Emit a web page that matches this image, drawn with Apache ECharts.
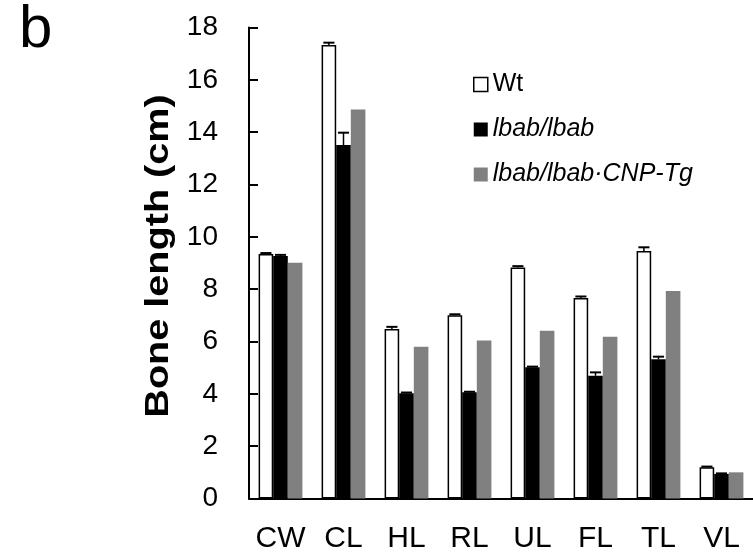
<!DOCTYPE html>
<html>
<head>
<meta charset="utf-8">
<script src="https://cdn.jsdelivr.net/npm/echarts@6/dist/echarts.min.js"></script>
<style>
html,body{margin:0;padding:0;background:#fff;}
#chart{width:753px;height:558px;}
</style>
</head>
<body>
<div id="chart"></div>
<script>
// ---- data ----
var categories = ['CW', 'CL', 'HL', 'RL', 'UL', 'FL', 'TL', 'VL'];
var seriesNames = ['Wt', 'lbab/lbab', 'lbab/lbab\u00b7CNP-Tg'];
var wtValues   = [9.34, 17.33, 6.48, 7.00, 8.83, 7.66, 9.46, 1.19];
var wtErrors   = [0.04, 0.09, 0.08, 0.04, 0.05, 0.06, 0.14, 0.03];
var lbabValues = [9.27, 13.51, 4.02, 4.06, 5.02, 4.69, 5.32, 0.94];
var lbabErrors = [0.04, 0.47, 0.03, 0.02, 0.02, 0.13, 0.10, 0.02];
var cnpValues  = [9.01, 14.87, 5.80, 6.04, 6.41, 6.18, 7.93, 1.00];
var yTicks = [0, 2, 4, 6, 8, 10, 12, 14, 16, 18];

// ---- styling constants ----
var BAR_W = 14.6;
var FONT = 'Liberation Sans, Arial, sans-serif';

var errData = [];
categories.forEach(function (c, i) {
  errData.push([i, wtValues[i], wtErrors[i], -1]);
  errData.push([i, lbabValues[i], lbabErrors[i], 0]);
});

var chart = echarts.init(document.getElementById('chart'), null, {renderer: 'canvas'});
chart.setOption({
  backgroundColor: '#fff',
  animation: false,
  title: {
    text: 'b', left: 14, top: -5,
    textStyle: {fontFamily: FONT, fontSize: 60, fontWeight: 'normal', color: '#000'}
  },
  graphic: [{
    type: 'text',
    x: 159, y: 256,
    rotation: Math.PI / 2,
    scaleX: 1.2,
    style: {
      text: 'Bone length (cm)',
      fontFamily: FONT, fontSize: 33, fontWeight: 'bold', fill: '#000',
      textAlign: 'center', textVerticalAlign: 'middle'
    }
  }],
  legend: {
    orient: 'vertical',
    left: 468, top: 67,
    itemWidth: 14, itemHeight: 14, itemGap: 20,
    icon: 'rect',
    textStyle: {fontFamily: FONT, fontSize: 25, color: '#000'},
    data: [
      {name: seriesNames[0], itemStyle: {color: '#fff', borderColor: '#000', borderWidth: 1.5}},
      {name: seriesNames[1], itemStyle: {color: '#000', borderWidth: 0}, textStyle: {fontStyle: 'italic'}},
      {name: seriesNames[2], itemStyle: {color: '#808080', borderWidth: 0}, textStyle: {fontStyle: 'italic'}}
    ]
  },
  grid: {left: 249, top: 27.5, width: 514, height: 471},
  xAxis: {
    type: 'category',
    data: categories,
    axisLine: {lineStyle: {color: '#000', width: 2}},
    axisTick: {show: false},
    axisLabel: {fontFamily: FONT, fontSize: 30, color: '#000', margin: 25, interval: 0, hideOverlap: false}
  },
  yAxis: {
    type: 'value',
    min: 0, max: 18, interval: 2,
    axisLine: {show: true, lineStyle: {color: '#000', width: 2}},
    axisTick: {show: true, inside: true, length: 9, lineStyle: {color: '#000', width: 2}},
    splitLine: {show: false},
    axisLabel: {fontFamily: FONT, fontSize: 28, color: '#000', margin: 31,
      formatter: function (v) { return yTicks.indexOf(v) >= 0 ? String(v) : ''; }}
  },
  series: [
    {
      name: seriesNames[0], type: 'bar', data: wtValues,
      barWidth: BAR_W, barGap: '0%',
      itemStyle: {color: '#fff', borderColor: '#000', borderWidth: 1.5},
      z: 2
    },
    {
      name: seriesNames[1], type: 'bar', data: lbabValues,
      barWidth: BAR_W, barGap: '0%',
      itemStyle: {color: '#000'},
      z: 2
    },
    {
      name: seriesNames[2], type: 'bar', data: cnpValues,
      barWidth: BAR_W, barGap: '0%',
      itemStyle: {color: '#808080'},
      z: 2
    },
    {
      type: 'custom',
      data: errData,
      z: 5,
      silent: true,
      renderItem: function (params, api) {
        var cat = api.value(0), v = api.value(1), e = api.value(2), k = api.value(3);
        var base = api.coord([cat, v]);
        var top = api.coord([cat, v + e]);
        var x = base[0] + k * BAR_W;
        var cw = BAR_W * 0.38;
        return {
          type: 'group',
          children: [
            {type: 'line', shape: {x1: x, y1: base[1], x2: x, y2: top[1]},
             style: {stroke: '#000', lineWidth: 1.5}},
            {type: 'line', shape: {x1: x - cw, y1: top[1], x2: x + cw, y2: top[1]},
             style: {stroke: '#000', lineWidth: 2}}
          ]
        };
      }
    }
  ]
});
</script>
</body>
</html>
